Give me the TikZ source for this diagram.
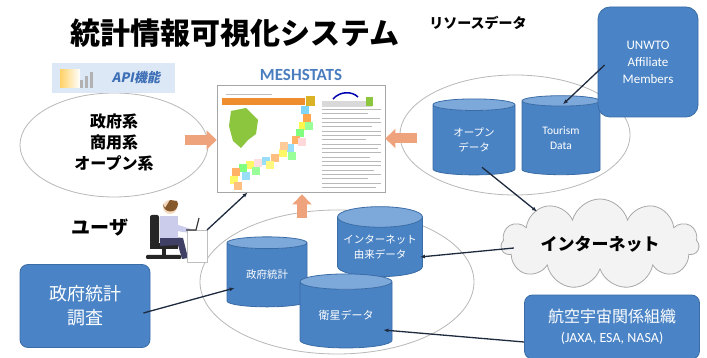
\documentclass[tikz,border=0pt]{standalone}
\usepackage{fontspec}
\setmainfont{Noto Sans CJK JP}
\newfontfamily\latin{Carlito}
\newfontfamily\slanted{Noto Sans CJK JP}[FakeSlant=0.2]
\usetikzlibrary{arrows.meta, positioning, shapes.geometric, shapes.symbols, calc}
\usepackage{xcolor}
\definecolor{storeblue}{HTML}{4A83C4}
\definecolor{storetop}{HTML}{7DA8DA}
\definecolor{storeedge}{HTML}{3A6CA6}
\definecolor{boxblue}{HTML}{4A84C6}
\definecolor{ringcol}{HTML}{B8B8B8}
\definecolor{feedcol}{HTML}{EFA37C}
\definecolor{linkcol}{HTML}{1E2A3E}
\definecolor{apibg}{HTML}{DCE8F5}
\definecolor{apitext}{HTML}{3D6FB6}
\definecolor{meshcol}{HTML}{4A7DBF}
\definecolor{cloudfill}{HTML}{F3F3F3}
\definecolor{clouddraw}{HTML}{A8A8A8}
\definecolor{mapbar}{HTML}{EF8C2E}
\definecolor{hokkaido}{HTML}{8CC63F}

\begin{document}
\begin{tikzpicture}[
    x=1pt, y=-1pt,
    region/.style={
        ellipse, draw=ringcol, line width=0.8pt, fill=white
    },
    bluebox/.style={
        draw=storeedge, fill=boxblue, rounded corners=8pt, line width=0.8pt,
        text=white, align=center
    },
    store/.style={
        cylinder, shape border rotate=90, aspect=0.28, draw=storeedge, line width=0.8pt,
        cylinder uses custom fill, cylinder body fill=storeblue, cylinder end fill=storetop,
        text=white, align=center, inner sep=0pt
    },
    heading/.style={
        font=\bfseries\fontsize{16}{21}\selectfont, align=center
    },
    link/.style={
        draw=linkcol, line width=1.3pt, -{Latex[length=5pt, width=4pt]}
    },
    feed/.style={
        draw=feedcol, line width=10pt, -{Triangle[length=10pt, width=19pt]}
    },
]
\useasboundingbox (0,0) rectangle (707,358);

% ── Title ──
\node[font=\bfseries\fontsize{30}{30}\selectfont] (title) at (235,33) {統計情報可視化システム};

% ── Regions ──
\node[region, minimum width=188, minimum height=104] (apiring) at (114,145) {};
\node[region, minimum width=230, minimum height=120] (dataring) at (515,135) {};
\node[region, minimum width=274, minimum height=144] (surveyring) at (337,282) {};

\node[heading] (sources) at (114,142) {政府系\\商用系\\オープン系};

% ── API tab ──
\node[fill=apibg, minimum width=123, minimum height=30] (apitab) at (113.5,78) {};
\shade[left color=yellow!40!orange!60, right color=white] (60,70) rectangle (80,88);
\fill[gray!60] (80,80) rectangle (83,88);
\fill[gray!60] (85,76) rectangle (88,88);
\fill[gray!60] (90,72) rectangle (93,88);
\node[font=\slanted\bfseries\fontsize{13}{13}\selectfont, text=apitext] (apiname) at (136,78) {API機能};

% ── Screen with map ──
\node[draw=gray!70, line width=0.8pt, fill=white, minimum width=168, minimum height=107] (screen) at (301,138.5) {};
\node[font=\latin\bfseries\fontsize{17}{17}\selectfont, text=meshcol, above=0pt of screen] (meshname) {MESHSTATS};

\fill[mapbar] (222,98) rectangle (305,105);
\fill[brown!60!yellow] (306,96) rectangle (315,106);
\draw[gray!50, line width=0.6pt] (226,94.5) -- (272,94.5);
\draw[blue!70!black, line width=1.5pt] (333,99) .. controls (340,91) and (352,91) .. (358,97);
\fill[gray!30] (322,101) rectangle (372,107);
\fill[hokkaido] (366,97) rectangle (373,106);
\fill[hokkaido] (231,111) -- (246,108) -- (258,120) -- (256,134) -- (248,140) -- (241,148) -- (233,141) -- (229,126) -- cycle;
\foreach \px/\py/\col in {305/110/cyan!50, 307/118/orange!70, 303/126/yellow!70,
        300/133/green!50, 296/140/orange!60, 302/142/pink!60, 290/148/cyan!40,
        283/153/yellow!60, 292/156/green!40, 275/158/orange!50, 266/161/cyan!40,
        258/163/pink!50, 250/165/yellow!60, 243/168/green!50, 236/172/orange!60,
        246/176/cyan!40, 234/180/yellow!60, 238/186/orange!50, 256/171/green!40,
        309/126/green!40, 284/146/orange!40, 270/165/yellow!50}
    \fill[\col] (\px-4,\py-4) rectangle (\px+4,\py+4);
\foreach \ly/\lx in {109/381, 113/368, 118/380, 122/381, 126/372, 131/381, 135/381,
        139/366, 144/381, 148/378, 152/381, 157/370, 161/381, 165/381, 170/374,
        174/381, 178/368, 183/381, 187/376}
    \draw[gray!55, line width=0.7pt] (322,\ly) -- (\lx,\ly);

% ── Resource data ──
\node[heading, font=\bfseries\fontsize{14}{14}\selectfont] (resname) at (478,23) {リソースデータ};
\node[store, minimum width=82, minimum height=76, font=\fontsize{10.5}{15}\selectfont] (opendata) at (474,140) {オープン\\データ};
\node[store, minimum width=78, minimum height=79, font=\latin\fontsize{11.5}{15}\selectfont] (tourism) at (561,138) {Tourism\\Data};
\node[bluebox, rounded corners=12pt, minimum width=100, minimum height=110, font=\latin\fontsize{13}{17}\selectfont] (unwto) at (648,62) {UNWTO\\Affiliate\\Members};

% ── Internet ──
\node[cloud, cloud puffs=11, cloud ignores aspect, draw=clouddraw, fill=cloudfill, line width=0.8pt,
    minimum width=198, minimum height=90, font=\bfseries\fontsize{17}{17}\selectfont] (internet) at (600,244) {インターネット};

% ── Statistics stores ──
\node[store, minimum width=80, minimum height=70, font=\fontsize{10.5}{15}\selectfont] (govstat) at (267,275) {政府統計};
\node[store, minimum width=85, minimum height=70, font=\fontsize{10.5}{15}\selectfont] (netdata) at (380,247) {インターネット\\由来データ};
\node[store, minimum width=92, minimum height=74, font=\fontsize{11}{15}\selectfont] (satdata) at (346,315) {衛星データ};

\node[bluebox, minimum width=130, minimum height=83, font=\fontsize{18}{24}\selectfont] (survey) at (85,306) {政府統計\\調査};
\node[bluebox, minimum width=175, minimum height=64, font=\fontsize{16}{20}\selectfont] (space) at (612,327)
    {航空宇宙関係組織\\{\latin\fontsize{14}{16}\selectfont (JAXA, ESA, NASA)}};

% ── User at desk ──
\node[heading, font=\bfseries\fontsize{19}{19}\selectfont] (username) at (100,228) {ユーザ};
\fill[black!85, rounded corners=2pt] (150,215) rectangle (159,244);
\fill[black!85] (150,243) rectangle (178,249);
\fill[black!85] (162,249) rectangle (166,256);
\fill[black!85, rounded corners=1pt] (146,255) rectangle (181,259);
\fill[blue!20!black!75] (160,236) -- (183,238) -- (188,258) -- (182,259) -- (178,245) -- (160,246) -- cycle;
\fill[cyan!25!blue!20] (160,216) rectangle (178,238);
\fill[cyan!25!blue!20] (172,223) -- (191,229) -- (190,233) -- (170,230) -- cycle;
\fill[orange!30!brown!30] (170,207) circle (7);
\fill[brown!70!black] (163,204) arc (180:0:7.5) -- (177,201) -- (170,200) -- (165,208) -- cycle;
\draw[gray!50, fill=white] (187,230) rectangle (207,262);
\draw[black!80, line width=1.2pt] (186,230) -- (196,230) -- (199,218);
\coordinate (user) at (207,230);

% ── Feeds into the screen ──
\draw[feed] ($(screen.west)+(-32,1.5)$) -- ($(screen.west)+(0,1.5)$);
\draw[feed] ($(screen.east)+(32,0)$) -- (screen.east);
\draw[feed] ($(screen.south)+(1,26)$) -- ($(screen.south)+(1,2)$);

% ── Links ──
\draw[link] ($(unwto.west)+(7,3)$) -- ($(tourism.north)+(2,9)$);
\draw[link] ($(opendata.south)+(8,-8)$) -- ($(internet.north)+(-63,13)$);
\draw[link] ($(internet.west)+(13,4)$) -- ($(netdata.east)+(-3,10)$);
\draw[link] ($(space.west)+(0,15)$) -- ($(satdata.east)+(-9,15)$);
\draw[link] ($(survey.east)+(-7,7)$) -- ($(govstat.west)+(8,13)$);
\draw[link] (user) -- ($(screen.south west)+(31,0)$);

\end{tikzpicture}
\end{document}
